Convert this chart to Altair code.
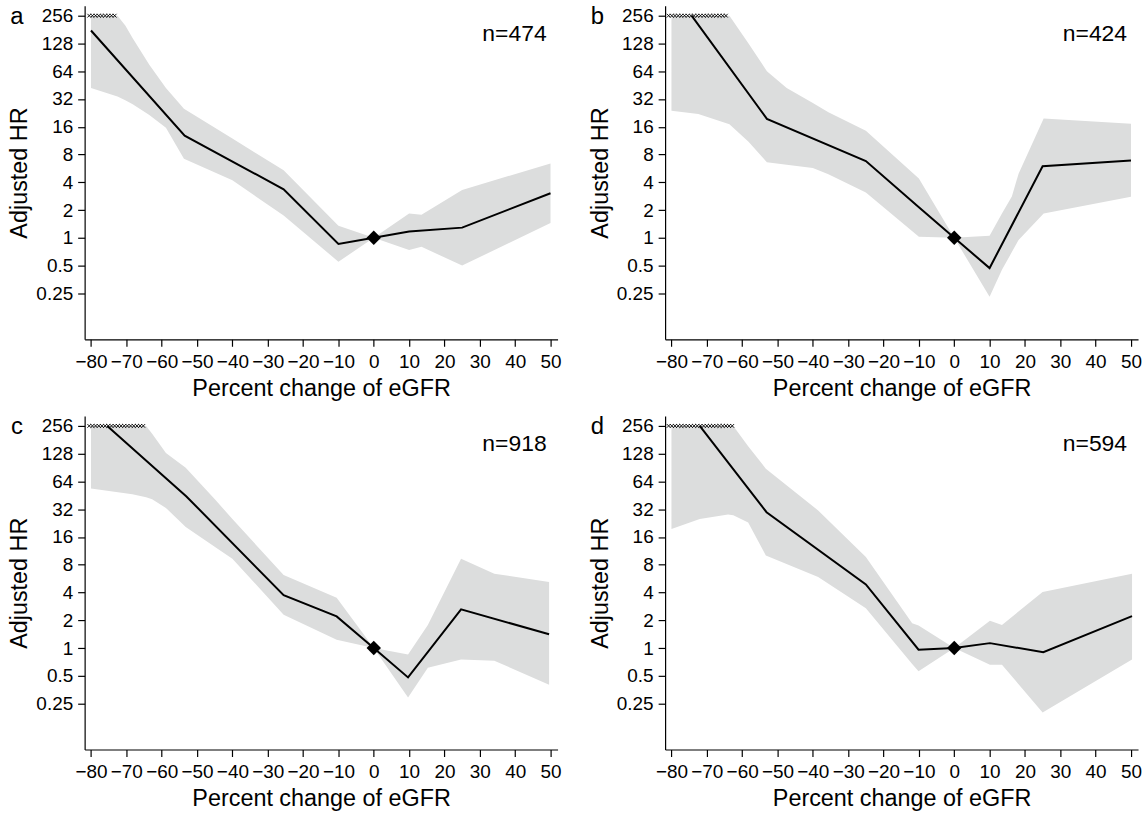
import altair as alt
import pandas as pd

# ---------------- data ----------------
# panel a
a_line_x = [-80, -53.5, -25.5, -10, 0, 10, 25, 50]
a_line_y = [177, 12.8, 3.36, 0.86, 1, 1.17, 1.29, 3.04]
a_band_x = [-80, -72.5, -70.3, -68.2, -63.5, -58.8, -53.7, -40, -25.5, -10, 0, 10, 13.5, 25, 50]
a_band_hi = [256, 256, 200, 146, 75, 42, 25, 11.9, 5.4, 1.35, 1, 1.84, 1.78, 3.3, 6.4]
a_band_lo = [42, 34, 31, 28, 21.5, 15.6, 7.2, 4.2, 1.75, 0.55, 1, 0.74, 0.8, 0.5, 1.45]

# panel b
b_line_x = [-74.3, -53, -25, -10, 0, 10, 25, 50]
b_line_y = [256, 19.5, 6.8, 2.15, 1, 0.47, 5.96, 6.9]
b_band_x = [-80, -72.4, -63.6, -58.2, -53, -47.4, -40, -35.6, -25, -10, 0, 10, 13.5, 16.3, 18.2, 25.3, 50]
b_band_hi = [256, 256, 256, 128, 64, 42, 29, 23, 14.5, 4.4, 1, 1.05, 1.84, 2.8, 4.96, 19.6, 17.2]
b_band_lo = [23.8, 22, 17, 11, 6.6, 6.2, 5.7, 4.9, 3.1, 1.03, 1, 0.23, 0.45, 0.7, 0.95, 1.84, 2.78]

# panel c
c_line_x = [-75.4, -53, -25.5, -10.5, 0, 9.7, 24.7, 49.6]
c_line_y = [256, 44, 3.74, 2.2, 1, 0.48, 2.63, 1.41]
c_band_x = [-80, -68.3, -64.4, -62.7, -58.8, -53.2, -44.7, -40, -25.5, -10.5, 0, 9.7, 15.3, 24.7, 34.1, 49.6]
c_band_hi = [256, 256, 256, 210, 130, 90, 40, 25, 6.2, 3.5, 1, 0.85, 1.78, 9.3, 6.4, 5.2]
c_band_lo = [53.8, 46.5, 43, 41, 33, 20.5, 12.3, 9.3, 2.3, 1.23, 1, 0.29, 0.61, 0.75, 0.73, 0.4]

# panel d
d_line_x = [-72, -53.1, -25, -10.1, 0, 10.1, 25.2, 50.3]
d_line_y = [256, 29.7, 4.9, 0.96, 1, 1.13, 0.9, 2.22]
d_band_x = [-80, -72, -64, -62.5, -58.3, -53.3, -38.5, -25, -11.9, -10.1, 0, 10.1, 13.5, 25, 50.3]
d_band_hi = [256, 256, 256, 256, 154, 88, 31, 9.7, 1.86, 1.75, 1, 1.97, 1.78, 4.06, 6.4]
d_band_lo = [19.5, 25, 28, 27.5, 23, 10.1, 5.9, 2.7, 0.67, 0.56, 1, 0.66, 0.66, 0.2, 0.75]

letters = ["a", "b", "c", "d"]
n_labels = ["n=474", "n=424", "n=918", "n=594"]
hatch_start = [-80.5, -80.8, -80.5, -80.8]
hatch_end = [-72.5, -64.0, -64.4, -62.5]
ref_x = [0]
ref_y = [1]

x_ticks = [-80, -70, -60, -50, -40, -30, -20, -10, 0, 10, 20, 30, 40, 50]
y_ticks = [0.25, 0.5, 1, 2, 4, 8, 16, 32, 64, 128, 256]

FONT = "Liberation Sans"
W, H = 475, 335


def panel(i, lx, ly, bx, bhi, blo):
    xs = alt.Scale(domain=[-81.8, 52], nice=False, zero=False)
    ys = alt.Scale(type="log", base=2, domain=[0.0794, 328], nice=False)
    xax = alt.Axis(values=x_ticks, format="d", title="Percent change of eGFR",
                   tickSize=7, labelPadding=6, titlePadding=5,
                   labelOverlap=False, labelFlush=False)
    yax = alt.Axis(values=y_ticks, format="~g", title="Adjusted HR",
                   tickSize=7, labelPadding=5, titlePadding=4,
                   labelOverlap=False)

    def X(f):
        return alt.X(f, type="quantitative", scale=xs, axis=xax)

    def Y(f):
        return alt.Y(f, type="quantitative", scale=ys, axis=yax)

    band_df = pd.DataFrame({"x": bx, "hi": bhi, "lo": blo})
    line_df = pd.DataFrame({"x": lx, "y": ly})

    band = alt.Chart(band_df).mark_area(color="#dcdddd", opacity=1).encode(
        x=X("x"), y=Y("hi"), y2="lo:Q",
    )
    line = alt.Chart(line_df).mark_line(color="black", strokeWidth=2).encode(
        x=X("x"), y=Y("y")
    )
    hatch = (
        alt.Chart(alt.sequence(hatch_start[i], hatch_end[i] + 0.01, 0.9, as_="x"))
        .transform_calculate(y="256")
        .mark_point(shape="M-1,-1L1,1M1,-1L-1,1", size=14, strokeWidth=0.9,
                    color="black", filled=False, opacity=1)
        .encode(x=X("x"), y=Y("y"))
    )
    diamond = alt.Chart(pd.DataFrame({"x": ref_x, "y": ref_y})).mark_point(
        shape="diamond", filled=True, size=210, color="black", opacity=1
    ).encode(x=X("x"), y=Y("y"))
    ntext = alt.Chart(pd.DataFrame({"t": [n_labels[i]]})).mark_text(
        align="right", baseline="middle", fontSize=23, font=FONT, color="black"
    ).encode(text="t:N", x=alt.value(464), y=alt.value(28))
    ltext = alt.Chart(pd.DataFrame({"t": [letters[i]]})).mark_text(
        align="center", baseline="alphabetic", fontSize=24, font=FONT, color="black"
    ).encode(text="t:N", x=alt.value(-68), y=alt.value(18))
    return alt.layer(band, line, hatch, diamond, ntext, ltext).properties(width=W, height=H)


pa = panel(0, a_line_x, a_line_y, a_band_x, a_band_hi, a_band_lo)
pb = panel(1, b_line_x, b_line_y, b_band_x, b_band_hi, b_band_lo)
pc = panel(2, c_line_x, c_line_y, c_band_x, c_band_hi, c_band_lo)
pd_ = panel(3, d_line_x, d_line_y, d_band_x, d_band_hi, d_band_lo)

chart = (
    alt.vconcat(
        alt.hconcat(pa, pb, spacing=27),
        alt.hconcat(pc, pd_, spacing=27),
        spacing=15,
    )
    .properties(padding={"left": 8, "top": 3, "right": 5, "bottom": 5})
    .configure_view(stroke=None)
    .configure_axis(
        labelFont=FONT, titleFont=FONT, labelFontSize=19, titleFontSize=23.5,
        titleFontWeight="normal", labelColor="black", titleColor="black",
        domainColor="black", tickColor="black", domainWidth=1.2, tickWidth=1.2,
        grid=False, labelOverlap=False,
    )
)

chart.save("out.html", embed_options={"renderer": "svg", "actions": False})
